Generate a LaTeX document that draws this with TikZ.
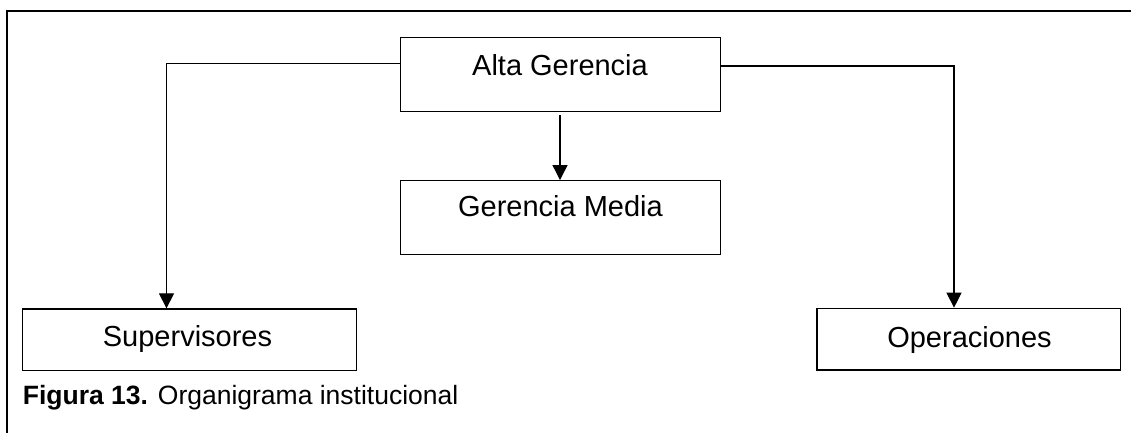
\documentclass[tikz,border=0pt]{standalone}
\usepackage{fontspec}
\setmainfont{Liberation Sans}
\usetikzlibrary{arrows.meta}
\tikzset{
  box/.style={draw=black, line width=1.3pt, rectangle, inner sep=0pt},
  boxtext/.style={anchor=base, inner sep=0pt, font=\fontsize{29pt}{34pt}\selectfont},
  conn/.style={draw=black, line width=1.1pt},
  arr/.style={conn, -{Triangle[length=15pt,width=15pt]}},
  frame/.style={draw=black, line width=2.2pt}
}
\begin{document}
\begin{tikzpicture}[x=1pt,y=-1pt]
\useasboundingbox (0,0) rectangle (1131,432);
% frame
\draw[frame] (1140,11) -- (7.3,11) -- (7.3,440);
% boxes
\node[box, minimum width=320pt, minimum height=74.4pt] (alta) at (560.5,74.5) {};
\node[box, minimum width=320pt, minimum height=73.6pt] (media) at (560.7,217.5) {};
\node[box, minimum width=334pt, minimum height=61.7pt] (sup) at (189.7,339.85) {};
\node[box, minimum width=303.7pt, minimum height=61.7pt] (oper) at (968.85,339.15) {};
% texts
\node[boxtext] (altat) at (560,75) {Alta Gerencia};
\node[boxtext] (mediat) at (560.5,216.7) {Gerencia Media};
\node[boxtext] (supt) at (187.5,346.5) {Supervisores};
\node[boxtext] (opert) at (969.5,347) {Operaciones};
% caption
\node[anchor=base west, inner sep=0pt, font=\fontsize{26.5pt}{31pt}\selectfont] (cap) at (22.7,404) {\textbf{Figura 13.} Organigrama institucional};
% connectors
\coordinate (cl) at (166.5,63.3);
\coordinate (cr) at (954,66);
\coordinate (cm) at (560,115);
\draw[arr] (cm) -- (cm |- media.north);
\draw[arr] (cl -| alta.west) -- (cl) -- (cl |- sup.north);
\draw[arr] (cr -| alta.east) -- (cr) -- (cr |- oper.north);
\end{tikzpicture}
\end{document}
